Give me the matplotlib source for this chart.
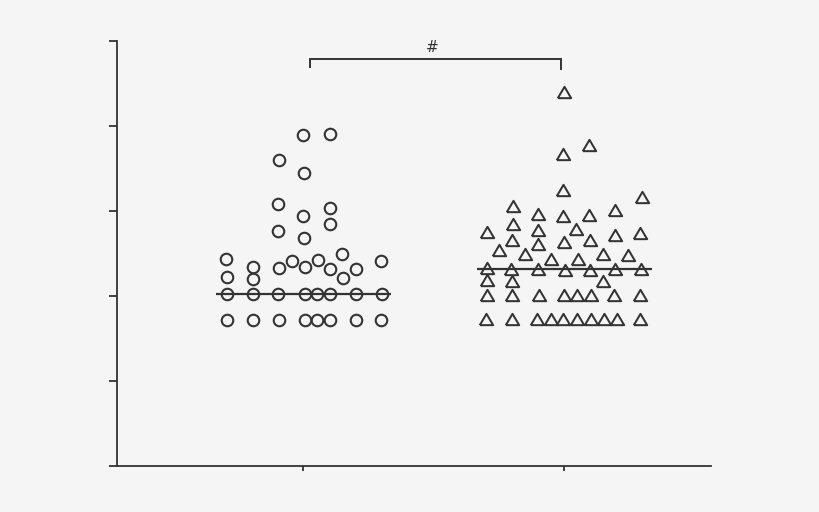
import matplotlib
matplotlib.use("Agg")
import matplotlib.pyplot as plt
import numpy as np

# ---- data ----
groups = ["Group A", "Group B"]
positions = [1, 2]

circle_x = [1.0, 1.101, 0.906, 1.003, 0.903, 1.102, 1.0, 1.101, 0.903, 1.003,
            0.705, 1.149, 1.298, 0.958, 1.055, 0.806, 0.906, 1.007, 1.103, 1.203,
            0.707, 0.806, 1.152,
            0.707, 0.806, 0.903, 1.005, 1.054, 1.103, 1.201, 1.303,
            0.709, 0.806, 0.906, 1.005, 1.054, 1.103, 1.202, 1.299]
circle_y = [3.885, 3.901, 3.596, 3.447, 3.083, 3.036, 2.939, 2.845, 2.766, 2.681,
            2.434, 2.493, 2.403, 2.411, 2.423, 2.340, 2.329, 2.336, 2.317, 2.317,
            2.218, 2.191, 2.203,
            2.023, 2.023, 2.023, 2.023, 2.023, 2.023, 2.023, 2.023,
            1.718, 1.718, 1.718, 1.718, 1.718, 1.718, 1.718, 1.718]

tri_x = [1.998, 2.096, 1.996, 1.996, 2.299, 1.802, 2.195, 1.900, 1.996, 2.093,
         1.802, 1.898, 1.703, 2.046, 2.195, 2.291, 1.801, 1.898, 1.999, 2.098,
         1.749, 1.849, 2.147, 2.245, 1.948, 2.052,
         1.703, 1.796, 1.898, 2.002, 2.098, 2.195, 2.294,
         1.703, 1.801, 2.147,
         1.703, 1.798, 1.902, 2.000, 2.050, 2.103, 2.190, 2.291,
         1.700, 1.798, 1.897, 1.949, 1.996, 2.050, 2.102, 2.152, 2.203, 2.291]
tri_y = [4.401, 3.776, 3.670, 3.248, 3.162, 3.052, 3.013, 2.966, 2.934, 2.946,
         2.849, 2.770, 2.746, 2.786, 2.716, 2.739, 2.653, 2.614, 2.629, 2.653,
         2.543, 2.493, 2.493, 2.477, 2.426, 2.426,
         2.329, 2.309, 2.309, 2.300, 2.297, 2.309, 2.309,
         2.180, 2.171, 2.171,
         2.007, 2.007, 2.007, 2.007, 2.007, 2.007, 2.007, 2.007,
         1.722, 1.722, 1.722, 1.722, 1.722, 1.722, 1.722, 1.722, 1.722, 1.722]

center_lines = [2.021, 2.309]
yticks = [0, 1, 2, 3, 4, 5]

# ---- style ----
bg = "#f5f5f5"
ink = "#333333"

fig = plt.figure(figsize=(8.2, 5.12), dpi=100, facecolor=bg)
ax = fig.add_axes([117.3 / 820, 1 - 465.7 / 512, (711 - 117.3) / 820, (465.7 - 40.7) / 512])
ax.set_facecolor(bg)

tri_marker = [(-1, -0.85), (1, -0.85), (0, 0.85), (-1, -0.85)]

ax.plot(circle_x, circle_y, linestyle="none", marker="o", markersize=8.3,
        markerfacecolor="none", markeredgecolor=ink, markeredgewidth=1.5, zorder=3)
ax.plot(tri_x, tri_y, linestyle="none", marker=tri_marker, markersize=9.6,
        markerfacecolor="none", markeredgecolor=ink, markeredgewidth=1.45, zorder=3)

half = 0.335
for p, m in zip(positions, center_lines):
    ax.plot([p - half, p + half], [m, m], color=ink, linewidth=1.6, zorder=4,
            solid_capstyle="butt")

ax.set_xlim(1 - (303.3 - 117.3) / 261, 2 + (711 - 564.3) / 261)
ax.set_ylim(0, 5)
ax.set_xticks(positions)
ax.set_yticks(yticks)
ax.set_xticklabels([])
ax.set_yticklabels([])

for s in ["top", "right"]:
    ax.spines[s].set_visible(False)
for s in ["left", "bottom"]:
    ax.spines[s].set_color(ink)
    ax.spines[s].set_linewidth(1.3)
ax.tick_params(axis="y", length=5.5, width=1.3, color=ink)
ax.tick_params(axis="x", length=3.8, width=1.3, color=ink)

# significance bracket
bx0, bx1 = 1.026, 1.986
ax.plot([bx0, bx0, bx1, bx1], [4.688, 4.789, 4.789, 4.664], color=ink,
        linewidth=1.4, clip_on=False, solid_joinstyle="miter")
ax.text(1.493, 4.83, "#", ha="center", va="bottom", fontsize=11,
        color=ink, family="DejaVu Sans")

fig.savefig("out.png", dpi=100, facecolor=bg)
